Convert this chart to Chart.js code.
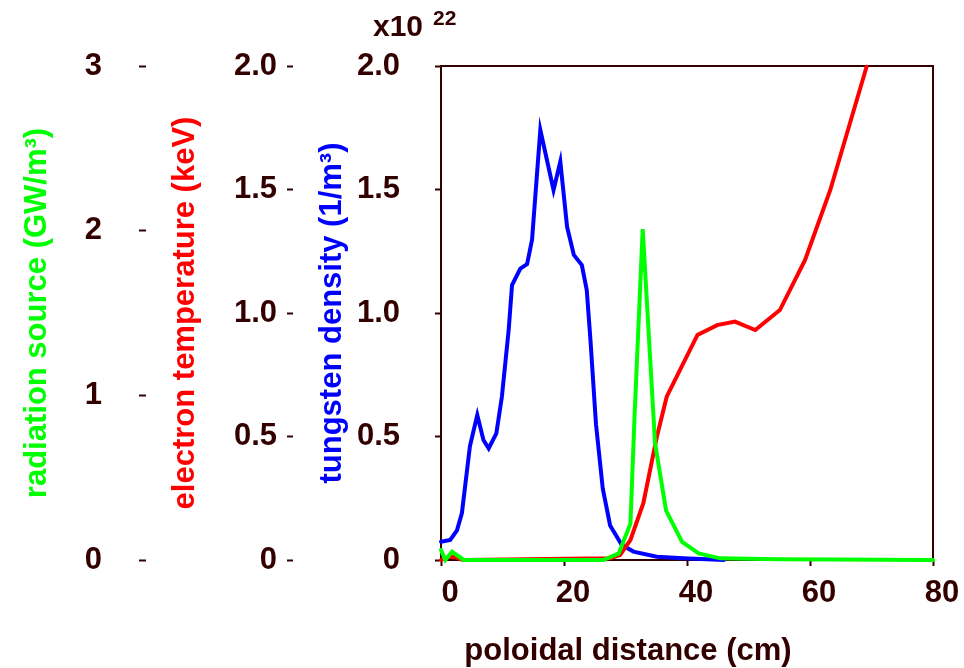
<!DOCTYPE html>
<html>
<head>
<meta charset="utf-8">
<script src="https://cdn.jsdelivr.net/npm/chart.js@4.4.0/dist/chart.umd.min.js"></script>
<style>
html,body{margin:0;padding:0;background:#ffffff;}
#wrap{width:964px;height:668px;position:relative;}
</style>
</head>
<body>
<div id="wrap"><canvas id="c"></canvas></div>
<script>
// ---- data ----
// tungsten density, units of 1e22 m^-3
const densityX = [0, 1.5, 2.6, 3.4, 4.7, 5.9, 6.9, 7.75, 9.0, 9.9, 11.0, 11.55, 12.9, 14.0, 14.8, 16.15, 18.3, 19.4, 20.5, 21.6, 22.9, 23.7, 24.3, 25.2, 26.3, 27.5, 29.4, 31.3, 35.1, 39.4, 46];
const densityY = [0.074, 0.081, 0.12, 0.19, 0.46, 0.587, 0.486, 0.452, 0.513, 0.661, 0.93, 1.113, 1.18, 1.198, 1.296, 1.741, 1.498, 1.613, 1.349, 1.235, 1.194, 1.093, 0.891, 0.55, 0.29, 0.14, 0.061, 0.034, 0.013, 0.007, 0];
// electron temperature, keV
const tempX = [0, 1.2, 2.2, 3.6, 27.5, 29.1, 30.8, 32.9, 35.1, 36.7, 41.7, 44.9, 47.8, 51.1, 55.1, 59.2, 63.3, 69.2];
const tempY = [0, 0.012, 0.012, 0, 0.007, 0.02, 0.081, 0.23, 0.499, 0.661, 0.911, 0.951, 0.965, 0.931, 1.012, 1.215, 1.498, 1.997];
// radiation source, GW/m^3
const radX = [0, 0.7, 1.8, 3.7, 26.4, 28.9, 30.8, 31.5, 32.8, 34.8, 36.6, 39.2, 41.9, 45.4, 55, 80];
const radY = [0.061, 0, 0.05, 0, 0, 0.04, 0.22, 0.9, 2.01, 0.71, 0.30, 0.11, 0.04, 0.01, 0.004, 0];

const xTicks = [0, 20, 40, 60, 80];
const densityTicks = [0, 0.5, 1.0, 1.5, 2.0];
const tempTicks = [0, 0.5, 1.0, 1.5, 2.0];
const radTicks = [0, 1, 2, 3];

const xTitle = 'poloidal distance (cm)';
const densityTitle = 'tungsten density (1/m³)';
const tempTitle = 'electron temperature (keV)';
const radTitle = 'radiation source (GW/m³)';
const densityExponent = ['x10', '22'];

// ---- styling ----
const INK = '#330000';
const FAM = "'Liberation Sans', Arial, sans-serif";
const tickFont = {family: FAM, size: 31, weight: 'bold'};
const titleFont = {family: FAM, size: 31, weight: 'bold'};
const fmt1 = v => (v === 0 ? '0' : Number(v).toFixed(1));
const pts = (xs, ys) => xs.map((x, i) => ({x: x, y: ys[i]}));
const setTicks = arr => (s => { s.ticks = arr.map(v => ({value: v})); });

const extraText = {
  id: 'extraText',
  afterDraw(chart) {
    const {ctx, scales, chartArea} = chart;
    const yd = scales.yD;
    ctx.save();
    ctx.fillStyle = INK;
    ctx.textBaseline = 'alphabetic';
    ctx.textAlign = 'left';
    ctx.font = 'bold 30px ' + FAM;
    const x0 = yd.right - 68;
    ctx.fillText(densityExponent[0], x0, chartArea.top - 30);
    const w = ctx.measureText(densityExponent[0]).width;
    ctx.font = 'bold 21px ' + FAM;
    ctx.fillText(densityExponent[1], x0 + w + 10, chartArea.top - 41);
    // x axis title
    ctx.font = 'bold 31px ' + FAM;
    ctx.textAlign = 'center';
    ctx.fillText(xTitle, chartArea.left + 187, chartArea.bottom + 100);
    ctx.restore();
  }
};

new Chart(document.getElementById('c'), {
  type: 'line',
  data: {
    datasets: [
      {label: 'radiation source', data: pts(radX, radY), yAxisID: 'yR', borderColor: '#00ff00', order: 1, clip: false},
      {label: 'electron temperature', data: pts(tempX, tempY), yAxisID: 'yT', borderColor: '#ff0000', order: 2, clip: false},
      {label: 'tungsten density', data: pts(densityX, densityY), yAxisID: 'yD', borderColor: '#0000ff', order: 3, clip: false}
    ]
  },
  options: {
    responsive: true,
    maintainAspectRatio: false,
    animation: false,
    events: [],
    layout: {padding: {left: 0, right: 31, top: 66, bottom: 0}},
    elements: {
      point: {radius: 0},
      line: {borderWidth: 4, tension: 0, fill: false, borderCapStyle: 'round', borderJoinStyle: 'miter'}
    },
    plugins: {legend: {display: false}, tooltip: {enabled: false}, title: {display: false}},
    scales: {
      x: {
        type: 'linear', position: 'bottom', min: 0, max: 80,
        afterBuildTicks: setTicks(xTicks),
        afterFit: s => { s.height = 108; },
        border: {display: true, color: INK, width: 2},
        grid: {display: true, drawOnChartArea: false, drawTicks: true, tickLength: 6, tickWidth: 2, tickColor: INK, color: INK},
        ticks: {color: INK, font: tickFont, padding: 9, labelOffset: 9, maxRotation: 0},
        title: {display: false, text: xTitle}
      },
      xTop: {
        type: 'linear', position: 'top', min: 0, max: 80,
        afterFit: s => { s.height = 0; },
        border: {display: true, color: INK, width: 2},
        grid: {display: false},
        ticks: {display: false}
      },
      yRight: {
        type: 'linear', position: 'right', min: 0, max: 2,
        afterFit: s => { s.width = 0; },
        border: {display: true, color: INK, width: 2},
        grid: {display: false},
        ticks: {display: false}
      },
      yD: {
        type: 'linear', position: 'left', weight: 1, min: 0, max: 2,
        afterBuildTicks: setTicks(densityTicks),
        afterFit: s => { s.width = 148; },
        border: {display: true, color: INK, width: 2},
        grid: {display: true, drawOnChartArea: false, drawTicks: true, tickLength: 6, tickWidth: 2, tickColor: INK, color: INK},
        ticks: {color: INK, font: tickFont, padding: 35, callback: fmt1},
        title: {display: true, text: densityTitle, color: '#0000ff', font: titleFont, padding: {top: 21, bottom: 0}}
      },
      yT: {
        type: 'linear', position: 'left', weight: 2, min: 0, max: 2,
        afterBuildTicks: setTicks(tempTicks),
        afterFit: s => { s.width = 147; },
        border: {display: false},
        grid: {display: true, drawOnChartArea: false, drawTicks: true, tickLength: 6, tickWidth: 2, tickColor: INK, color: INK},
        ticks: {color: INK, font: tickFont, padding: 10, callback: fmt1},
        title: {display: true, text: tempTitle, color: '#ff0000', font: titleFont, padding: {top: 21, bottom: 0}}
      },
      yR: {
        type: 'linear', position: 'left', weight: 3, min: 0, max: 3,
        afterBuildTicks: setTicks(radTicks),
        afterFit: s => { s.width = 146; },
        border: {display: false},
        grid: {display: true, drawOnChartArea: false, drawTicks: true, tickLength: 7, tickWidth: 2, tickColor: INK, color: INK},
        ticks: {color: INK, font: tickFont, padding: 37, callback: v => String(v)},
        title: {display: true, text: radTitle, color: '#00ff00', font: titleFont, padding: {top: 19, bottom: 0}}
      }
    }
  },
  plugins: [extraText]
});
</script>
</body>
</html>
